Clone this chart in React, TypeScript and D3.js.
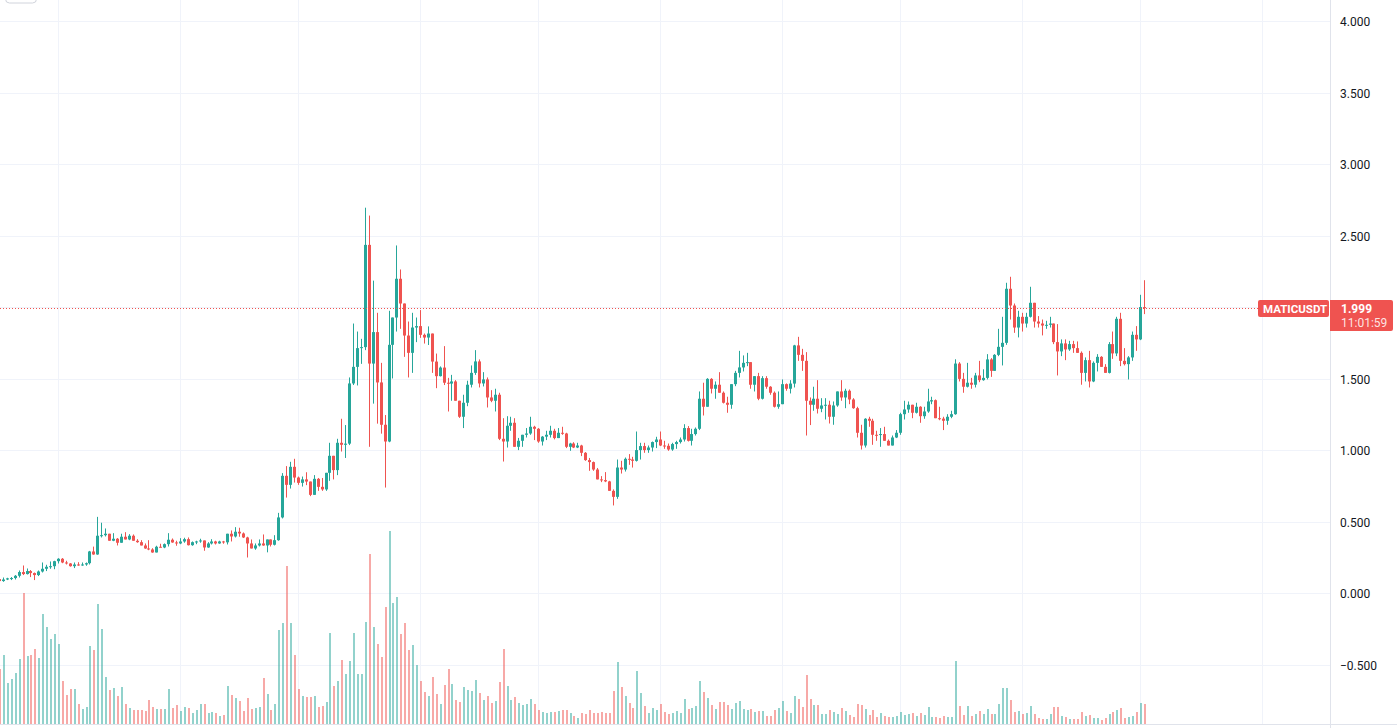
import React from "react";
import * as d3 from "d3";

// ---------- DATA ----------
const startDate = Date.UTC(2021, 1, 14); // first daily candle
const firstOpen = 0.103;

const closes = [
  0.089, 0.100, 0.108, 0.110, 0.126, 0.152, 0.138, 0.159, 0.145, 0.131,
  0.156, 0.175, 0.189, 0.193, 0.228, 0.245, 0.219, 0.212, 0.193, 0.205,
  0.198, 0.205, 0.214, 0.296, 0.275, 0.406, 0.410, 0.420, 0.371, 0.385,
  0.357, 0.399, 0.380, 0.406, 0.371, 0.361, 0.338, 0.317, 0.310, 0.289,
  0.329, 0.324, 0.347, 0.378, 0.359, 0.352, 0.366, 0.382, 0.340, 0.361,
  0.366, 0.373, 0.324, 0.352, 0.366, 0.352, 0.366, 0.360, 0.420, 0.401,
  0.434, 0.422, 0.394, 0.352, 0.317, 0.338, 0.352, 0.338, 0.380, 0.343,
  0.375, 0.534, 0.825, 0.762, 0.888, 0.813, 0.776, 0.800, 0.785, 0.692,
  0.804, 0.748, 0.730, 0.846, 0.965, 0.865, 1.056, 1.042, 1.050, 1.471,
  1.587, 1.718, 1.725, 2.440, 1.610, 1.830, 1.478, 1.182, 1.065, 1.741,
  1.932, 2.203, 2.030, 1.806, 1.685, 1.862, 1.872, 1.811, 1.792, 1.820,
  1.624, 1.522, 1.582, 1.476, 1.470, 1.485, 1.350, 1.238, 1.336, 1.462,
  1.545, 1.625, 1.471, 1.499, 1.373, 1.350, 1.392, 1.084, 1.065, 1.175,
  1.196, 1.028, 1.070, 1.112, 1.121, 1.168, 1.154, 1.065, 1.099, 1.112,
  1.140, 1.089, 1.126, 1.121, 1.028, 1.051, 1.023, 1.037, 0.986, 0.935,
  0.921, 0.869, 0.800, 0.795, 0.786, 0.720, 0.678, 0.883, 0.869, 0.944,
  0.939, 0.930, 1.005, 1.033, 1.005, 1.023, 1.061, 1.079, 1.037, 1.035,
  1.009, 1.047, 1.061, 1.079, 1.159, 1.070, 1.117, 1.154, 1.364, 1.308,
  1.503, 1.434, 1.462, 1.406, 1.336, 1.322, 1.466, 1.545, 1.583, 1.615,
  1.620, 1.462, 1.522, 1.364, 1.508, 1.448, 1.406, 1.308, 1.326, 1.466,
  1.434, 1.470, 1.737, 1.671, 1.629, 1.350, 1.322, 1.364, 1.294, 1.317,
  1.322, 1.238, 1.317, 1.415, 1.373, 1.420, 1.359, 1.298, 1.126, 1.037,
  1.224, 1.210, 1.112, 1.110, 1.117, 1.070, 1.037, 1.093, 1.126, 1.256,
  1.289, 1.322, 1.266, 1.308, 1.242, 1.275, 1.345, 1.354, 1.228, 1.225,
  1.210, 1.238, 1.256, 1.610, 1.503, 1.448, 1.476, 1.462, 1.527, 1.494,
  1.510, 1.639, 1.559, 1.671, 1.727, 1.755, 2.133, 2.016, 1.862, 1.937,
  1.890, 1.937, 2.035, 1.904, 1.890, 1.876, 1.881, 1.890, 1.760, 1.695,
  1.751, 1.709, 1.746, 1.718, 1.685, 1.545, 1.634, 1.485, 1.615, 1.657,
  1.587, 1.545, 1.746, 1.681, 1.923, 1.629, 1.606, 1.653, 1.811, 1.779,
  2.005, 1.999,
];

const highs = [
  0.112, 0.114, 0.112, 0.117, 0.131, 0.163, 0.198, 0.177, 0.166, 0.149,
  0.163, 0.219, 0.203, 0.226, 0.231, 0.249, 0.250, 0.231, 0.215, 0.219,
  0.221, 0.219, 0.219, 0.300, 0.330, 0.538, 0.497, 0.457, 0.420, 0.424,
  0.390, 0.420, 0.431, 0.417, 0.415, 0.382, 0.375, 0.352, 0.375, 0.319,
  0.336, 0.350, 0.352, 0.424, 0.387, 0.371, 0.389, 0.392, 0.394, 0.366,
  0.371, 0.385, 0.371, 0.361, 0.382, 0.371, 0.371, 0.370, 0.420, 0.443,
  0.466, 0.462, 0.429, 0.399, 0.380, 0.352, 0.380, 0.415, 0.380, 0.380,
  0.410, 0.566, 0.844, 0.893, 0.923, 0.944, 0.820, 0.820, 0.850, 0.785,
  0.830, 0.810, 0.810, 0.846, 1.056, 0.965, 1.084, 1.224, 1.180, 1.513,
  1.890, 1.834, 1.783, 2.700, 2.645, 2.190, 1.965, 1.615, 1.250, 1.979,
  1.932, 2.436, 2.268, 2.030, 1.904, 1.965, 1.932, 1.984, 1.820, 1.870,
  1.820, 1.680, 1.590, 1.732, 1.510, 1.531, 1.494, 1.350, 1.392, 1.490,
  1.597, 1.704, 1.639, 1.550, 1.513, 1.424, 1.434, 1.406, 1.228, 1.242,
  1.238, 1.228, 1.090, 1.112, 1.159, 1.238, 1.175, 1.159, 1.103, 1.140,
  1.175, 1.154, 1.159, 1.168, 1.126, 1.056, 1.060, 1.056, 1.042, 0.991,
  0.950, 0.925, 0.880, 0.823, 0.851, 0.790, 0.730, 0.939, 0.930, 0.953,
  0.977, 0.958, 1.135, 1.056, 1.056, 1.037, 1.065, 1.098, 1.135, 1.070,
  1.051, 1.056, 1.070, 1.093, 1.186, 1.173, 1.154, 1.163, 1.415, 1.476,
  1.508, 1.508, 1.485, 1.550, 1.415, 1.378, 1.466, 1.559, 1.699, 1.667,
  1.685, 1.620, 1.522, 1.545, 1.522, 1.522, 1.452, 1.415, 1.415, 1.499,
  1.471, 1.494, 1.741, 1.797, 1.713, 1.690, 1.373, 1.448, 1.494, 1.368,
  1.368, 1.350, 1.345, 1.415, 1.494, 1.434, 1.429, 1.368, 1.308, 1.182,
  1.228, 1.238, 1.224, 1.140, 1.159, 1.168, 1.079, 1.107, 1.145, 1.266,
  1.350, 1.345, 1.322, 1.336, 1.312, 1.308, 1.434, 1.378, 1.359, 1.308,
  1.238, 1.256, 1.280, 1.640, 1.620, 1.545, 1.615, 1.510, 1.545, 1.629,
  1.570, 1.676, 1.648, 1.676, 1.853, 1.937, 2.175, 2.217, 2.030, 1.979,
  1.965, 1.965, 2.147, 2.035, 1.942, 1.918, 1.909, 1.937, 1.890, 1.886,
  1.779, 1.779, 1.769, 1.769, 1.765, 1.695, 1.653, 1.699, 1.625, 1.676,
  1.662, 1.606, 1.760, 1.834, 1.937, 1.965, 1.718, 1.662, 1.834, 1.872,
  2.091, 2.193,
];

const lows = [
  0.082, 0.084, 0.096, 0.096, 0.100, 0.114, 0.131, 0.135, 0.117, 0.096,
  0.124, 0.149, 0.159, 0.175, 0.172, 0.212, 0.214, 0.205, 0.190, 0.180,
  0.196, 0.196, 0.196, 0.205, 0.273, 0.273, 0.394, 0.401, 0.371, 0.368,
  0.338, 0.357, 0.380, 0.375, 0.371, 0.357, 0.338, 0.315, 0.305, 0.287,
  0.289, 0.324, 0.319, 0.331, 0.357, 0.336, 0.347, 0.357, 0.338, 0.336,
  0.347, 0.357, 0.301, 0.322, 0.345, 0.345, 0.350, 0.350, 0.345, 0.366,
  0.394, 0.399, 0.390, 0.254, 0.317, 0.308, 0.331, 0.336, 0.290, 0.331,
  0.338, 0.371, 0.527, 0.673, 0.736, 0.778, 0.762, 0.750, 0.760, 0.683,
  0.692, 0.720, 0.720, 0.720, 0.790, 0.800, 0.830, 0.995, 0.950, 1.040,
  1.460, 1.457, 1.608, 1.704, 1.028, 1.330, 1.190, 1.120, 0.743, 1.060,
  1.506, 1.834, 1.853, 1.657, 1.513, 1.545, 1.760, 1.790, 1.750, 1.740,
  1.545, 1.438, 1.520, 1.460, 1.275, 1.350, 1.350, 1.230, 1.159, 1.312,
  1.443, 1.531, 1.443, 1.450, 1.303, 1.340, 1.275, 1.075, 0.925, 1.023,
  1.140, 1.028, 1.005, 1.028, 1.093, 1.112, 1.075, 1.056, 1.037, 1.075,
  1.093, 1.080, 1.093, 1.112, 1.019, 1.000, 1.019, 1.019, 0.963, 0.930,
  0.860, 0.860, 0.800, 0.781, 0.781, 0.720, 0.618, 0.664, 0.841, 0.855,
  0.902, 0.883, 0.925, 0.939, 0.986, 0.986, 0.995, 1.019, 1.033, 1.014,
  1.000, 1.000, 1.014, 1.051, 1.065, 1.065, 1.037, 1.107, 1.145, 1.247,
  1.308, 1.401, 1.364, 1.406, 1.331, 1.266, 1.294, 1.452, 1.513, 1.555,
  1.592, 1.434, 1.415, 1.354, 1.359, 1.434, 1.392, 1.303, 1.294, 1.326,
  1.420, 1.401, 1.443, 1.629, 1.559, 1.107, 1.180, 1.280, 1.261, 1.270,
  1.219, 1.191, 1.182, 1.308, 1.350, 1.298, 1.326, 1.294, 1.093, 1.009,
  1.023, 1.168, 1.042, 1.070, 1.028, 1.070, 1.037, 1.037, 1.089, 1.112,
  1.219, 1.266, 1.228, 1.261, 1.196, 1.224, 1.266, 1.326, 1.228, 1.214,
  1.145, 1.182, 1.228, 1.252, 1.485, 1.406, 1.443, 1.434, 1.443, 1.480,
  1.490, 1.499, 1.517, 1.559, 1.662, 1.597, 1.741, 1.918, 1.825, 1.793,
  1.834, 1.862, 1.932, 1.862, 1.862, 1.807, 1.853, 1.862, 1.746, 1.527,
  1.662, 1.634, 1.699, 1.685, 1.685, 1.462, 1.485, 1.443, 1.480, 1.555,
  1.587, 1.545, 1.541, 1.643, 1.662, 1.592, 1.597, 1.499, 1.629, 1.699,
  1.774, 1.956,
];

// volume in millions of MATIC
const volumes = [
  55, 69, 41, 45, 51, 65, 131, 68, 69, 75,
  66, 110, 97, 85, 90, 80, 43, 29, 35, 35,
  20, 15, 17, 78, 74, 120, 95, 47, 34, 36,
  28, 37, 20, 16, 14, 14, 14, 13, 24, 17,
  15, 15, 15, 35, 16, 19, 13, 17, 16, 11,
  14, 20, 20, 11, 12, 11, 8, 9, 38, 29,
  26, 23, 13, 26, 15, 16, 17, 46, 30, 14,
  20, 94, 101, 158, 101, 69, 35, 28, 27, 27,
  28, 17, 18, 22, 91, 38, 43, 64, 50, 63,
  91, 50, 50, 102, 170, 97, 80, 67, 117, 193,
  121, 127, 90, 101, 74, 79, 59, 43, 32, 28,
  47, 30, 20, 39, 55, 40, 24, 22, 37, 34,
  33, 44, 31, 24, 28, 21, 23, 42, 75, 38,
  24, 27, 21, 19, 20, 25, 20, 14, 12, 11,
  12, 12, 13, 14, 14, 11, 8, 6, 11, 10,
  14, 11, 11, 12, 11, 11, 33, 62, 37, 28,
  21, 16, 53, 31, 18, 11, 16, 14, 20, 12,
  10, 11, 13, 11, 25, 15, 16, 18, 43, 32,
  26, 19, 15, 22, 22, 19, 15, 21, 23, 15,
  14, 15, 12, 13, 13, 8, 8, 14, 16, 23,
  13, 11, 28, 25, 17, 49, 25, 19, 19, 10,
  10, 14, 12, 10, 16, 13, 9, 7, 20, 19,
  15, 9, 14, 7, 11, 8, 7, 7, 8, 12,
  9, 10, 11, 8, 11, 9, 17, 7, 7, 6,
  8, 7, 7, 63, 18, 9, 18, 8, 10, 13,
  10, 15, 10, 10, 20, 36, 36, 24, 12, 13,
  10, 11, 18, 10, 6, 5, 5, 10, 17, 17,
  8, 7, 5, 5, 5, 12, 8, 9, 6, 6,
  4, 6, 10, 12, 14, 16, 6, 7, 8, 12,
  21, 20,
];

const priceTicks = [4, 3.5, 3, 2.5, 2, 1.5, 1, 0.5, 0, -0.5];
const symbolLabel = "MATICUSDT";
const lastPriceText = "1.999";
const countdownText = "11:01:59";
const lastPrice = 1.999;

// ---------- STYLE ----------
const W = 1397;
const H = 728;
const paneRight = 1330;
const paneBottom = 724;
const UP = "#26a69a";
const DOWN = "#ef5350";
const UP_VOL = "rgba(38,166,154,0.5)";
const DOWN_VOL = "rgba(239,83,80,0.5)";
const GRID = "#f0f3fa";
const BORDER = "#e0e3eb";
const FONT = "Roboto, 'Trebuchet MS', sans-serif";

export default function App() {
  const x = d3
    .scaleUtc()
    .domain([new Date(Date.UTC(2021, 2, 1)), new Date(Date.UTC(2022, 0, 1))])
    .range([58, 1262]);
  const y = d3.scaleLinear().domain([-0.5, 4]).range([665.3, 21.8]);
  const yVol = d3.scaleLinear().domain([0, 200]).range([paneBottom, paneBottom - 200]);

  const n = Math.min(closes.length, highs.length, lows.length, volumes.length);
  const candles = d3.range(n).map((i) => {
    const date = d3.utcDay.offset(new Date(startDate), i);
    const o = i === 0 ? firstOpen : closes[i - 1];
    const c = closes[i];
    return {
      date,
      o,
      c,
      h: Math.max(highs[i], o, c),
      l: Math.min(lows[i], o, c),
      v: volumes[i],
      up: c >= o,
    };
  });

  const months = d3
    .utcMonth.range(new Date(Date.UTC(2021, 1, 1)), new Date(Date.UTC(2022, 1, 2)))
    .map((d) => Math.round(x(d)))
    .filter((px) => px > 0 && px < paneRight);

  const lineY = Math.round(y(lastPrice)) + 0.5;

  return (
    <svg
      width={W}
      height={H}
      style={{ position: "absolute", left: 0, top: 0, display: "block", background: "#ffffff" }}
    >
      <defs>
        <clipPath id="pane">
          <rect x={0} y={0} width={paneRight} height={paneBottom} />
        </clipPath>
      </defs>
      <rect x={0} y={0} width={W} height={H} fill="#ffffff" />

      {/* grid */}
      <g>
        {priceTicks.map((t) => (
          <line
            key={"h" + t}
            x1={0}
            x2={paneRight}
            y1={Math.floor(y(t)) + 0.5}
            y2={Math.floor(y(t)) + 0.5}
            stroke={GRID}
            strokeWidth={1}
          />
        ))}
        {months.map((px) => (
          <line key={"v" + px} x1={px + 0.5} x2={px + 0.5} y1={0} y2={paneBottom} stroke={GRID} strokeWidth={1} />
        ))}
      </g>

      {/* volume */}
      <g clipPath="url(#pane)">
        {candles.map((d, i) => {
          const cx = Math.round(x(d.date));
          const top = yVol(d.v);
          return (
            <rect
              key={"vol" + i}
              x={cx}
              y={top}
              width={2}
              height={paneBottom - top}
              fill={d.up ? UP_VOL : DOWN_VOL}
            />
          );
        })}
      </g>

      {/* candles */}
      <g clipPath="url(#pane)">
        {candles.map((d, i) => {
          const cx = Math.round(x(d.date));
          const col = d.up ? UP : DOWN;
          const yt = y(Math.max(d.o, d.c));
          const yb = y(Math.min(d.o, d.c));
          return (
            <g key={"c" + i}>
              <rect x={cx} y={y(d.h)} width={1} height={Math.max(1, y(d.l) - y(d.h))} fill={col} />
              <rect x={cx - 1} y={yt} width={3} height={Math.max(1, yb - yt)} fill={col} />
            </g>
          );
        })}
      </g>

      {/* last price line */}
      <line
        x1={0}
        x2={1258}
        y1={lineY}
        y2={lineY}
        stroke={DOWN}
        strokeWidth={1}
        strokeDasharray="1 2"
      />

      {/* top-left button edge */}
      <rect x={5.5} y={-20} width={31} height={23} rx={4} fill="#ffffff" stroke="#d1d4dc" />

      {/* borders */}
      <line x1={paneRight + 0.5} x2={paneRight + 0.5} y1={0} y2={H} stroke={BORDER} />
      <line x1={0} x2={W} y1={paneBottom + 0.5} y2={paneBottom + 0.5} stroke={BORDER} />

      {/* price axis labels */}
      <g fontFamily={FONT} fontSize={12} fill="#131722">
        {priceTicks.map((t) => (
          <text key={"t" + t} x={1340} y={y(t)} dy="0.35em">
            {(t < 0 ? "\u2212" : "") + d3.format(".3f")(Math.abs(t))}
          </text>
        ))}
      </g>

      {/* symbol label */}
      <rect x={1258} y={300} width={71} height={17} rx={2} fill={DOWN} />
      <text x={1263} y={312.5} fontFamily={FONT} fontSize={11.5} fontWeight="bold" fill="#ffffff">
        {symbolLabel}
      </text>

      {/* last price label */}
      <path d="M1330,300 H1391 a2,2 0 0 1 2,2 V329 a2,2 0 0 1 -2,2 H1330 Z" fill={DOWN} />
      <text x={1341} y={313} fontFamily={FONT} fontSize={12} fontWeight="bold" fill="#ffffff">
        {lastPriceText}
      </text>
      <text x={1341} y={327} fontFamily={FONT} fontSize={12} fill="#ffffff" fillOpacity={0.85}>
        {countdownText}
      </text>
    </svg>
  );
}
